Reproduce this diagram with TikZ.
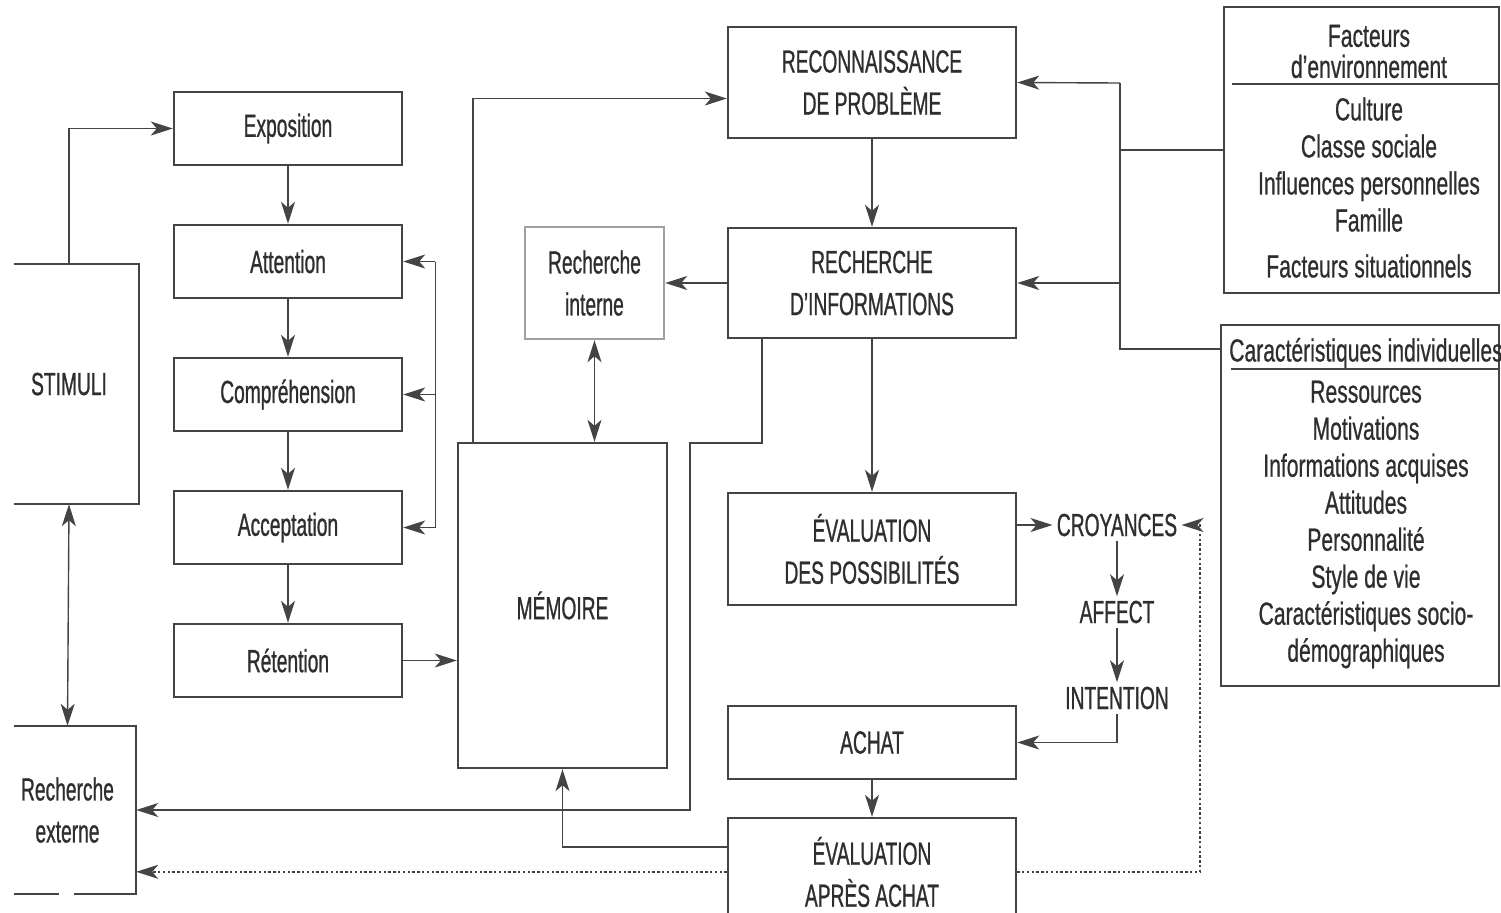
\documentclass[tikz,border=0pt]{standalone}
\usepackage{fontspec}
\setmainfont{Liberation Sans}[FakeStretch=0.6, FakeBold=0.8]
\newfontfamily\listefont{Liberation Sans}[FakeStretch=0.66, FakeBold=0.6]
\usepackage{tikz}
\usetikzlibrary{positioning,arrows.meta}
\definecolor{trait}{HTML}{444444}
\definecolor{texte}{HTML}{2E2E2E}
\definecolor{clair}{HTML}{A0A0A0}

\begin{document}
\begin{tikzpicture}[x=0.5pt, y=-0.5pt,
  >={Stealth[length=11pt,width=7pt,inset=3pt]},
  cadre/.style = {draw=trait, line width=1.2pt},
  boite/.style = {cadre, text=texte, align=center, inner sep=0pt, font=\fontsize{16pt}{21pt}\selectfont},
  etape/.style = {boite, minimum width=114pt, minimum height=36.5pt},
  mot/.style = {text=texte, inner sep=2pt, font=\fontsize{16pt}{21pt}\selectfont},
  liste/.style = {text=texte, align=center, inner sep=0pt, font=\listefont\fontsize{16pt}{18.5pt}\selectfont},
  lien/.style = {draw=trait, line width=0.7pt},
  fleche/.style = {lien, ->},
  pointille/.style = {dash pattern=on 1.2pt off 1.2pt}]
\useasboundingbox (0,0) rectangle (1501,912);

\node[etape] (expo) at (288,128.5) {Exposition};
\node[etape] (atte) [below=28.8pt of expo] {Attention};
\node[etape] (comp) [below=28.8pt of atte] {Compréhension};
\node[etape] (acce) [below=28.8pt of comp] {Acceptation};
\node[etape] (rete) [below=28.8pt of acce] {Rétention};

\node[etape, draw=none, minimum width=69pt, minimum height=119pt] (stim) at (69,384) {STIMULI};
\node[etape, draw=none, minimum width=67.5pt, minimum height=83pt] (rext) at (67.5,810) {Recherche\\externe};
\node[boite, minimum width=104.5pt, minimum height=162.5pt] (mem) at (562.5,605.5) {MÉMOIRE};

\node[boite, minimum width=144pt, minimum height=55.5pt] (reco) at (872,82.5) {RECONNAISSANCE\\DE PROBLÈME};
\node[boite, minimum width=144pt, minimum height=55pt] (rinf) [below=43.8pt of reco] {RECHERCHE\\D’INFORMATIONS};
\node[boite, draw=clair, minimum width=69.5pt, minimum height=56pt] (rint) [left=30.8pt of rinf] {Recherche\\interne};
\node[boite, minimum width=144pt, minimum height=56pt] (evpo) [below=76.3pt of rinf] {ÉVALUATION\\DES POSSIBILITÉS};
\node[etape, minimum width=144pt] (achat) [below=49.3pt of evpo] {ACHAT};
\node[boite, minimum width=144pt, minimum height=54pt] (evap) [below=18.3pt of achat] {ÉVALUATION\\APRÈS ACHAT};

\node[mot] (croy) at (1117,525) {CROYANCES};
\node[mot] (affe) at (1117,612) {AFFECT};
\node[mot] (inte) at (1117,698) {INTENTION};

\node[boite, minimum width=137.5pt, minimum height=143pt] (fenv) at (1361.5,150) {};
\node[liste] (fenvt) at (1369,51.5) {Facteurs\\[-3pt]d’environnement};
\node[liste] (fenvl) at (1369,187.5) {Culture\\Classe sociale\\Influences personnelles\\Famille\\[4.5pt]Facteurs situationnels};
\node[boite, minimum width=139pt, minimum height=180.5pt] (cind) at (1360,505.5) {};
\node[liste] (cindt) at (1366,353) {Caractéristiques individuelles};
\node[liste] (cindl) at (1366,524.5) {Ressources\\Motivations\\Informations acquises\\Attitudes\\Personnalité\\Style de vie\\Caractéristiques socio-\\démographiques};

\draw[cadre] ([xshift=7.5pt]stim.north west) -- (stim.north east) -- (stim.south east) -- ([xshift=7.5pt]stim.south west);
\draw[cadre] ([xshift=7.5pt]rext.north west) -- (rext.north east) -- (rext.south east) -- ([xshift=37.5pt]rext.south west);
\draw[cadre] ([xshift=30pt]rext.south west) -- ([xshift=7.5pt]rext.south west);
\draw[cadre] ([xshift=4.5pt,yshift=-39pt]fenv.north west) -- ([yshift=-39pt]fenv.north east);
\draw[cadre, line width=0.9pt] ([xshift=5.5pt,yshift=-22.5pt]cind.north west) -- ([yshift=-22.5pt]cind.north east);

\coordinate (retour) at ([xshift=16pt]atte.east);
\coordinate (coude) at (690,443);
\coordinate (pb) at ([yshift=-27.5pt]evap.north west);
\coordinate (pc) at ([yshift=-27.5pt]evap.north east);
\coordinate (droite) at (1200,525);
\coordinate (bus) at (1120,83);

\draw[fleche] (stim.north) |- (expo.west);
\draw[fleche] (expo) -- (atte);
\draw[fleche] (atte) -- (comp);
\draw[fleche] (comp) -- (acce);
\draw[fleche] (acce) -- (rete);
\draw[fleche] (retour) -- (atte.east);
\draw[fleche] (retour) |- (acce.east);
\draw[fleche] (retour |- comp.east) -- (comp.east);
\draw[fleche] (rete) -- (rete -| mem.west);
\draw[fleche, <->] (stim.south) -- (rext.north);

\draw[fleche] ([xshift=8pt]mem.north west) |- ([yshift=-8pt]reco.west);
\draw[fleche] (reco) -- (rinf);
\draw[fleche] (rinf) -- (rint);
\draw[fleche, <->] (rint.south) -- (rint.south |- mem.north);
\draw[fleche] ([xshift=17.5pt]rinf.south west) |- (coude) |- (rext.east);
\draw[fleche] (rinf) -- (evpo);
\draw[fleche] (evpo.east |- croy.west) -- (croy.west);
\draw[fleche] (croy) -- (affe);
\draw[fleche] (affe) -- (inte);
\draw[fleche] (inte.south) |- (achat.east);
\draw[fleche] (achat) -- (evap);
\draw[fleche] ([yshift=-15pt]evap.north west) -| (mem.south);
\draw[fleche, pointille] (pb) -- (pb -| rext.east);
\draw[fleche, pointille] (pc) -| (droite) -- (croy.east);

\draw[fleche] (bus) -- (reco.east);
\draw[fleche] (bus |- rinf.east) -- (rinf.east);
\draw[lien] ([yshift=-12.5pt]cind.north west) -| (bus);
\draw[lien] (fenv.west) -- (fenv.west -| bus);
\end{tikzpicture}
\end{document}
